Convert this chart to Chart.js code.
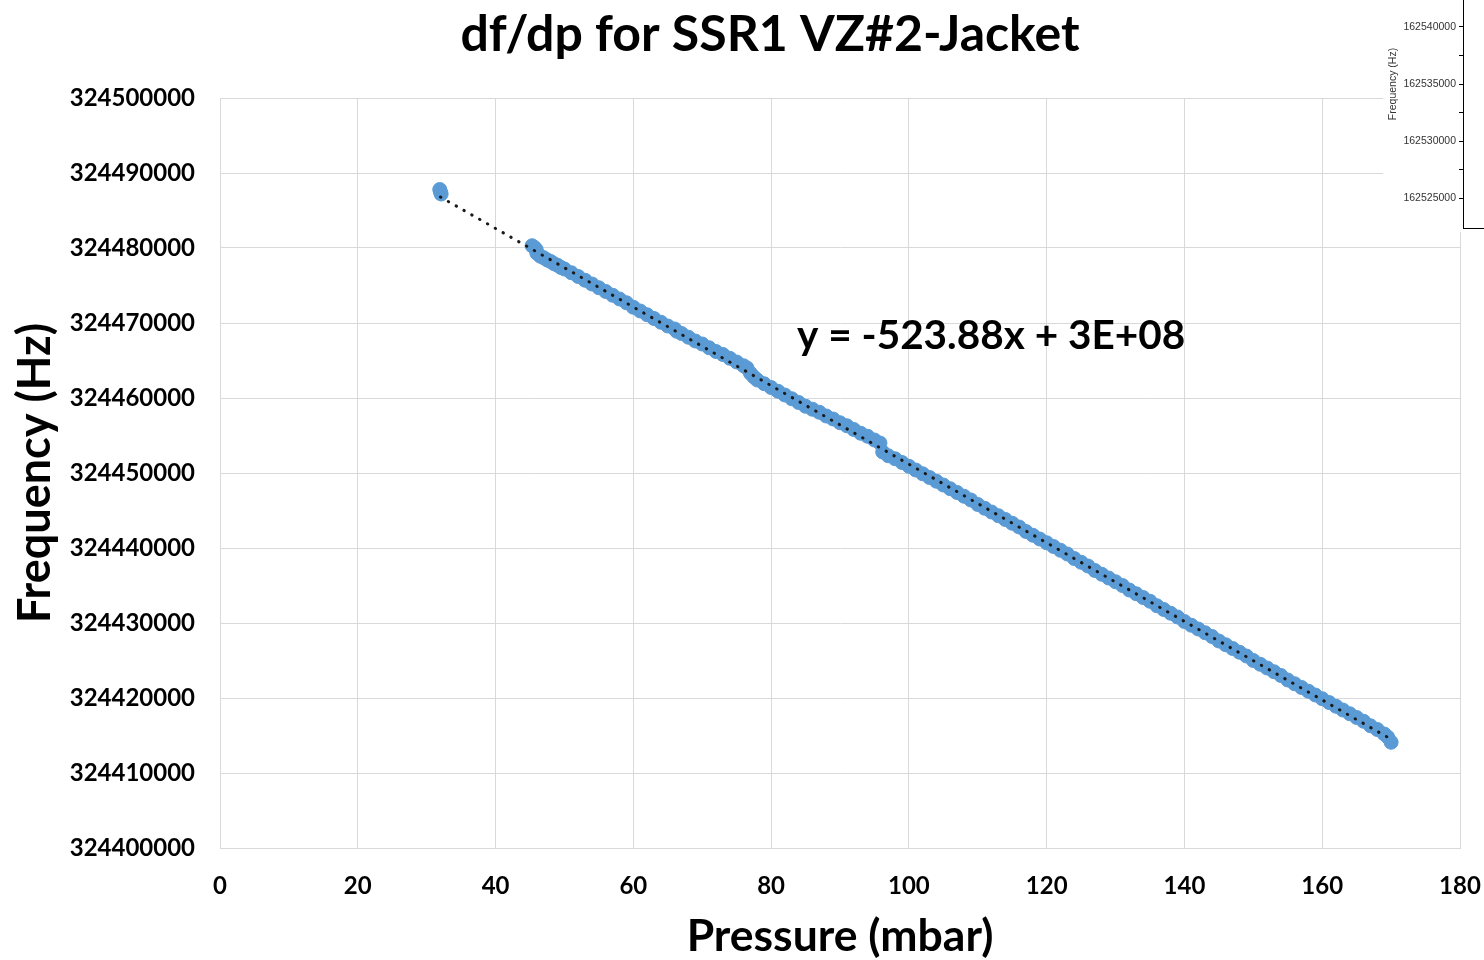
<!doctype html>
<html lang="en">
<head>
<meta charset="utf-8">
<title>df/dp for SSR1 VZ#2-Jacket</title>
<script src="https://cdn.jsdelivr.net/npm/chart.js"></script>
<style>
    html, body { margin: 0; padding: 0; background: #fff; overflow: hidden; }
    .wrap { position: relative; width: 1484px; height: 960px; overflow: hidden; }
    #mainChart { position: absolute; left: 0; top: 0; }
    #insetChart { position: absolute; left: 1383px; top: -60px; background: #fff; }
</style>
</head>
<body>
<div class="wrap">
    <canvas id="mainChart" width="1484" height="960"></canvas>
    <canvas id="insetChart" width="200" height="292"></canvas>
</div>

<script>
    // measured points (pressure in mbar, frequency in Hz)
    const pressure = [
        31.9, 32.0, 32.1,
        45.3, 45.6, 45.9, 46, 46.5, 47, 47.5, 48, 48.5, 49, 49.5, 50,
        51, 52, 53, 54, 55, 56, 57, 58, 59, 60,
        61, 62, 63, 64, 65, 66, 66.3, 67, 68, 69, 70,
        71, 72, 73, 74, 75, 76, 76.5, 77, 77.5, 78, 79, 80,
        81, 82, 83, 84, 85, 86, 87, 88, 89, 90,
        91, 92, 93, 94, 95, 95.8, 96.2, 97, 98, 99, 100,
        101, 102, 103, 104, 105, 106, 107, 108, 109, 110,
        111, 112, 113, 114, 115, 116, 117, 118, 119, 120,
        121, 122, 123, 124, 125, 126, 127, 128, 129, 130,
        131, 132, 133, 134, 135, 136, 137, 138, 139, 140,
        141, 142, 143, 144, 145, 146, 147, 148, 149, 150,
        151, 152, 153, 154, 155, 156, 157, 158, 159, 160,
        161, 162, 163, 164, 165, 166, 167, 168, 169, 169.5, 170
    ];
    const frequency = [
        324487800, 324487500, 324487200,
        324480300, 324480100, 324479800, 324479300, 324478900, 324478700, 324478400, 324478200, 324477900, 324477700, 324477400, 324477200,
        324476700, 324476200, 324475700, 324475200, 324474700, 324474200, 324473700, 324473200, 324472700, 324472100,
        324471600, 324471100, 324470600, 324470100, 324469600, 324469200, 324468900, 324468600, 324468100, 324467600, 324467200,
        324466700, 324466200, 324465800, 324465300, 324464800, 324464300, 324464000, 324463300, 324462800, 324462400, 324461900, 324461400,
        324460900, 324460400, 324459900, 324459400, 324458900, 324458500, 324458100, 324457600, 324457200, 324456700,
        324456300, 324455800, 324455300, 324454900, 324454400, 324454000, 324452800, 324452300, 324451900, 324451400, 324450900,
        324450400, 324449900, 324449400, 324448900, 324448400, 324447900, 324447400, 324446900, 324446400, 324445800,
        324445300, 324444800, 324444300, 324443800, 324443300, 324442800, 324442200, 324441700, 324441200, 324440700,
        324440200, 324439700, 324439200, 324438600, 324438100, 324437600, 324437000, 324436500, 324436000, 324435500,
        324435000, 324434400, 324433900, 324433400, 324432900, 324432300, 324431800, 324431300, 324430800, 324430200,
        324429700, 324429200, 324428700, 324428200, 324427600, 324427100, 324426600, 324426100, 324425600, 324425000,
        324424500, 324424000, 324423500, 324423000, 324422400, 324421900, 324421400, 324420900, 324420400, 324419900,
        324419400, 324418900, 324418400, 324417900, 324417400, 324416900, 324416300, 324415800, 324415200, 324414800, 324414100
    ];

    // linear trendline end points
    const trendX = [32, 170];
    const trendY = [324486800, 324414500];

    const xTicks = [0, 20, 40, 60, 80, 100, 120, 140, 160, 180];
    const yTicks = [324400000, 324410000, 324420000, 324430000, 324440000, 324450000, 324460000, 324470000, 324480000, 324490000, 324500000];

    const titleText = 'df/dp for SSR1 VZ#2-Jacket';
    const equationText = 'y = -523.88x + 3E+08';

    // the clipped neighbouring chart in the top right corner
    const insetTicks = [162525000, 162530000, 162535000, 162540000];

    const FONT = 'Lato, "Open Sans", sans-serif';

    // chart title and trendline equation
    const textLabels = {
        id: 'textLabels',
        afterDraw(chart) {
            const ctx = chart.ctx;
            ctx.save();
            ctx.fillStyle = '#000';
            ctx.textBaseline = 'middle';
            ctx.font = 'bold 50px ' + FONT;
            ctx.textAlign = 'center';
            ctx.fillText(titleText, 770, 35);
            ctx.font = 'bold 40.5px ' + FONT;
            ctx.textAlign = 'left';
            ctx.fillText(equationText, 797, 336);
            ctx.restore();
        }
    };

    const points = pressure.map((p, i) => ({ x: p, y: frequency[i] }));
    const trend = trendX.map((p, i) => ({ x: p, y: trendY[i] }));

    new Chart(document.getElementById('mainChart').getContext('2d'), {
        type: 'scatter',
        data: {
            datasets: [{
                type: 'line',
                label: 'Linear trend',
                data: trend,
                order: 0,
                borderColor: '#1a1a1a',
                borderWidth: 3,
                borderDash: [0.5, 8.5],
                borderCapStyle: 'round',
                pointRadius: 0,
                fill: false
            }, {
                label: 'Frequency',
                data: points,
                order: 1,
                backgroundColor: '#5b9bd5',
                borderColor: '#5b9bd5',
                borderWidth: 1,
                pointRadius: 7
            }]
        },
        options: {
            responsive: false,
            animation: false,
            events: [],
            layout: { padding: { left: 0, right: 24, top: 98, bottom: 0 } },
            plugins: {
                legend: { display: false },
                tooltip: { enabled: false },
                title: { display: false }
            },
            scales: {
                x: {
                    type: 'linear',
                    min: 0,
                    max: 180,
                    afterBuildTicks: s => { s.ticks = xTicks.map(v => ({ value: v })); },
                    afterFit: s => { s.height = 112; s.paddingLeft = 0; s.paddingRight = 0; },
                    grid: { color: '#d9d9d9', lineWidth: 1, drawTicks: false },
                    border: { color: '#d9d9d9' },
                    ticks: {
                        color: '#000',
                        padding: 24,
                        font: { family: FONT, size: 24, weight: 'bold' },
                        maxRotation: 0
                    },
                    title: {
                        display: true,
                        text: 'Pressure (mbar)',
                        color: '#000',
                        font: { family: FONT, size: 44.5, weight: 'bold', lineHeight: 1.05 },
                        padding: { top: 0, bottom: 0 }
                    }
                },
                y: {
                    type: 'linear',
                    min: 324400000,
                    max: 324500000,
                    afterBuildTicks: s => { s.ticks = yTicks.map(v => ({ value: v })); },
                    afterFit: s => { s.width = 220; s.paddingTop = 0; s.paddingBottom = 0; },
                    grid: { color: '#d9d9d9', lineWidth: 1, drawTicks: false },
                    border: { color: '#d9d9d9' },
                    ticks: {
                        color: '#000',
                        padding: 25,
                        font: { family: FONT, size: 24, weight: 'bold' },
                        callback: v => String(v)
                    },
                    title: {
                        display: true,
                        text: 'Frequency (Hz)',
                        color: '#000',
                        font: { family: FONT, size: 45, weight: 'bold', lineHeight: 1.2 },
                        padding: { top: 8, bottom: 0 }
                    }
                }
            }
        },
        plugins: [textLabels]
    });

    // small piece of the next chart, cut off at the window edge
    const whiteBg = {
        id: 'whiteBg',
        beforeDraw(chart) {
            const ctx = chart.ctx;
            ctx.save();
            ctx.fillStyle = '#fff';
            ctx.fillRect(0, 0, chart.width, chart.height);
            ctx.restore();
        }
    };

    new Chart(document.getElementById('insetChart').getContext('2d'), {
        type: 'scatter',
        data: { datasets: [{ data: [] }] },
        options: {
            responsive: false,
            animation: false,
            events: [],
            layout: { padding: 0 },
            plugins: { legend: { display: false }, tooltip: { enabled: false } },
            scales: {
                x: {
                    type: 'linear',
                    min: 0,
                    max: 1,
                    afterFit: s => { s.height = 4; s.paddingLeft = 0; s.paddingRight = 0; },
                    ticks: { display: false },
                    grid: { display: false },
                    border: { display: true, color: '#000', width: 1 }
                },
                y: {
                    type: 'linear',
                    min: 162522370,
                    max: 162547630,
                    afterBuildTicks: s => {
                        const t = [];
                        insetTicks.forEach(v => { t.push({ value: v }); t.push({ value: v + 2500 }); });
                        s.ticks = t;
                    },
                    afterFit: s => { s.width = 80; s.paddingTop = 0; s.paddingBottom = 0; },
                    grid: { drawOnChartArea: false, drawTicks: true, tickLength: 4, color: '#000' },
                    border: { display: true, color: '#000', width: 1 },
                    ticks: {
                        color: '#333',
                        padding: 3,
                        autoSkip: false,
                        font: { family: 'Liberation Sans, Arial, sans-serif', size: 10.5 },
                        callback: v => (insetTicks.includes(v) ? String(v) : '')
                    },
                    title: {
                        display: true,
                        text: 'Frequency (Hz)',
                        color: '#333',
                        font: { family: 'Liberation Sans, Arial, sans-serif', size: 10.5, lineHeight: 1.2 },
                        padding: { top: 4, bottom: 0 }
                    }
                }
            }
        },
        plugins: [whiteBg]
    });
</script>
</body>
</html>
